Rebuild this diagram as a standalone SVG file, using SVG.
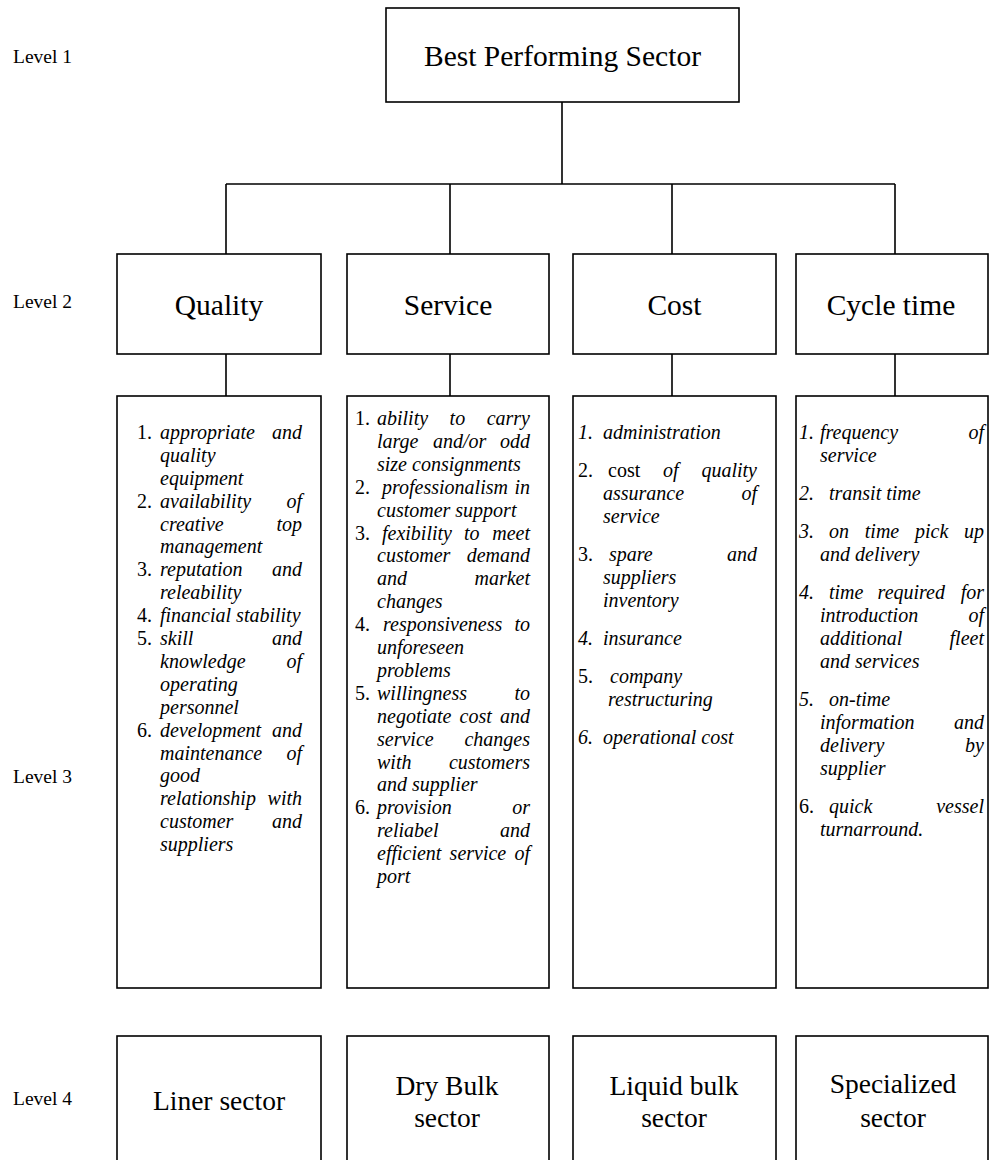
<svg xmlns="http://www.w3.org/2000/svg" width="989" height="1160" viewBox="0 0 989 1160">
  <style>
    text { font-family: "Liberation Serif", "Times New Roman", serif; fill: #000; }
    .box { fill: none; stroke: #000; stroke-width: 1.6; }
    .wire { fill: none; stroke: #000; stroke-width: 1.6; }
    .lvl { font-size: 19.5px; }
    .head { font-size: 29.5px; text-anchor: middle; }
    .sec { font-size: 27.5px; text-anchor: middle; }
    .it { font-size: 20px; font-style: italic; }
    .n { font-style: normal; }
    .e { text-anchor: end; }
  </style>
  <rect width="989" height="1160" fill="#fff"/>

  <!-- level captions -->
  <g id="levels">
    <text class="lvl" x="13" y="63">Level 1</text>
    <text class="lvl" x="13" y="308">Level 2</text>
    <text class="lvl" x="13" y="783">Level 3</text>
    <text class="lvl" x="13" y="1105">Level 4</text>
  </g>

  <!-- tree connectors -->
  <g id="connectors">
    <path class="wire" d="M562 102 V184 M226 184 H895 M226 184 V254 M450 184 V254 M672 184 V254 M895 184 V254"/>
    <path class="wire" d="M226 354 V396 M450 354 V396 M672 354 V396 M895 354 V396"/>
  </g>

  <!-- level 1 -->
  <g id="best-performing-sector">
    <rect class="box" x="386" y="8" width="353" height="94"/>
    <text class="head" x="562.5" y="66">Best Performing Sector</text>
  </g>

  <!-- level 2 -->
  <g id="quality">
    <rect class="box" x="117" y="254" width="204" height="100"/>
    <text class="head" x="219" y="315">Quality</text>
  </g>
  <g id="service">
    <rect class="box" x="347" y="254" width="202" height="100"/>
    <text class="head" x="448" y="315">Service</text>
  </g>
  <g id="cost">
    <rect class="box" x="573" y="254" width="203" height="100"/>
    <text class="head" x="674.5" y="315">Cost</text>
  </g>
  <g id="cycle-time">
    <rect class="box" x="796" y="254" width="192" height="100"/>
    <text class="head" x="891" y="315">Cycle time</text>
  </g>

  <!-- level 3: criteria lists -->
  <g id="quality-criteria">
    <rect class="box" x="117" y="396" width="204" height="592"/>
    <text class="it" y="439"><tspan class="n" x="137">1.</tspan><tspan x="160">appropriate</tspan><tspan class="e" x="302">and</tspan></text>
    <text class="it" x="160" y="462">quality</text>
    <text class="it" x="160" y="485">equipment</text>
    <text class="it" y="508"><tspan class="n" x="137">2.</tspan><tspan x="160">availability</tspan><tspan class="e" x="302">of</tspan></text>
    <text class="it" y="531"><tspan x="160">creative</tspan><tspan class="e" x="302">top</tspan></text>
    <text class="it" x="160" y="553">management</text>
    <text class="it" y="576"><tspan class="n" x="137">3.</tspan><tspan x="160">reputation</tspan><tspan class="e" x="302">and</tspan></text>
    <text class="it" x="160" y="599">releability</text>
    <text class="it" y="622"><tspan class="n" x="137">4.</tspan><tspan x="160">financial stability</tspan></text>
    <text class="it" y="645"><tspan class="n" x="137">5.</tspan><tspan x="160">skill</tspan><tspan class="e" x="302">and</tspan></text>
    <text class="it" y="668"><tspan x="160">knowledge</tspan><tspan class="e" x="302">of</tspan></text>
    <text class="it" x="160" y="691">operating</text>
    <text class="it" x="160" y="714">personnel</text>
    <text class="it" y="737"><tspan class="n" x="137">6.</tspan><tspan x="160">development</tspan><tspan class="e" x="302">and</tspan></text>
    <text class="it" y="760"><tspan x="160">maintenance</tspan><tspan class="e" x="302">of</tspan></text>
    <text class="it" x="160" y="782">good</text>
    <text class="it" y="805"><tspan x="160">relationship</tspan><tspan class="e" x="302">with</tspan></text>
    <text class="it" y="828"><tspan x="160">customer</tspan><tspan class="e" x="302">and</tspan></text>
    <text class="it" x="160" y="851">suppliers</text>
  </g>

  <g id="service-criteria">
    <rect class="box" x="347" y="396" width="202" height="592"/>
    <text class="it" y="425"><tspan class="n" x="355">1.</tspan><tspan x="377">ability</tspan><tspan x="449.6">to</tspan><tspan class="e" x="530">carry</tspan></text>
    <text class="it" y="448"><tspan x="377">large</tspan><tspan x="433">and/or</tspan><tspan class="e" x="530">odd</tspan></text>
    <text class="it" x="377" y="471">size consignments</text>
    <text class="it" y="494"><tspan class="n" x="355">2.</tspan><tspan x="382">professionalism</tspan><tspan class="e" x="530">in</tspan></text>
    <text class="it" x="377" y="517">customer support</text>
    <text class="it" y="540"><tspan class="n" x="355">3.</tspan><tspan x="382">fexibility</tspan><tspan x="464">to</tspan><tspan class="e" x="530">meet</tspan></text>
    <text class="it" y="562"><tspan x="377">customer</tspan><tspan class="e" x="530">demand</tspan></text>
    <text class="it" y="585"><tspan x="377">and</tspan><tspan class="e" x="530">market</tspan></text>
    <text class="it" x="377" y="608">changes</text>
    <text class="it" y="631"><tspan class="n" x="355">4.</tspan><tspan x="383">responsiveness</tspan><tspan class="e" x="530">to</tspan></text>
    <text class="it" x="377" y="654">unforeseen</text>
    <text class="it" x="377" y="677">problems</text>
    <text class="it" y="700"><tspan class="n" x="355">5.</tspan><tspan x="377">willingness</tspan><tspan class="e" x="530">to</tspan></text>
    <text class="it" y="723"><tspan x="377">negotiate</tspan><tspan x="459.6">cost</tspan><tspan class="e" x="530">and</tspan></text>
    <text class="it" y="746"><tspan x="377">service</tspan><tspan class="e" x="530">changes</tspan></text>
    <text class="it" y="769"><tspan x="377">with</tspan><tspan class="e" x="530">customers</tspan></text>
    <text class="it" x="377" y="791">and supplier</text>
    <text class="it" y="814"><tspan class="n" x="355">6.</tspan><tspan x="377">provision</tspan><tspan class="e" x="530">or</tspan></text>
    <text class="it" y="837"><tspan x="377">reliabel</tspan><tspan class="e" x="530">and</tspan></text>
    <text class="it" y="860"><tspan x="377">efficient</tspan><tspan x="449.6">service</tspan><tspan class="e" x="530">of</tspan></text>
    <text class="it" x="377" y="883">port</text>
  </g>

  <g id="cost-criteria">
    <rect class="box" x="573" y="396" width="203" height="592"/>
    <text class="it" y="439"><tspan x="578">1.</tspan><tspan x="603">administration</tspan></text>
    <text class="it" y="477"><tspan class="n" x="578">2.</tspan><tspan class="n" x="608">cost</tspan><tspan x="663">of</tspan><tspan class="e" x="757">quality</tspan></text>
    <text class="it" y="500"><tspan x="603">assurance</tspan><tspan class="e" x="757">of</tspan></text>
    <text class="it" x="603" y="523">service</text>
    <text class="it" y="561"><tspan class="n" x="578">3.</tspan><tspan x="609">spare</tspan><tspan class="e" x="757">and</tspan></text>
    <text class="it" x="603" y="584">suppliers</text>
    <text class="it" x="603" y="607">inventory</text>
    <text class="it" y="645"><tspan x="578">4.</tspan><tspan x="603">insurance</tspan></text>
    <text class="it" y="683"><tspan class="n" x="578">5.</tspan><tspan x="610">company</tspan></text>
    <text class="it" x="608" y="706">restructuring</text>
    <text class="it" y="744"><tspan x="578">6.</tspan><tspan x="603">operational cost</tspan></text>
  </g>

  <g id="cycle-time-criteria">
    <rect class="box" x="796" y="396" width="192" height="592"/>
    <text class="it" y="439"><tspan x="799">1.</tspan><tspan x="820">frequency</tspan><tspan class="e" x="984">of</tspan></text>
    <text class="it" x="820" y="462">service</text>
    <text class="it" y="500"><tspan x="799">2.</tspan><tspan x="829">transit time</tspan></text>
    <text class="it" y="538"><tspan x="799">3.</tspan><tspan x="829">on</tspan><tspan x="864.8">time</tspan><tspan x="915">pick</tspan><tspan class="e" x="984">up</tspan></text>
    <text class="it" x="820" y="561">and delivery</text>
    <text class="it" y="599"><tspan x="799">4.</tspan><tspan x="829">time</tspan><tspan x="877.6">required</tspan><tspan class="e" x="984">for</tspan></text>
    <text class="it" y="622"><tspan x="820">introduction</tspan><tspan class="e" x="984">of</tspan></text>
    <text class="it" y="645"><tspan x="820">additional</tspan><tspan class="e" x="984">fleet</tspan></text>
    <text class="it" x="820" y="668">and services</text>
    <text class="it" y="706"><tspan x="799">5.</tspan><tspan x="829">on-time</tspan></text>
    <text class="it" y="729"><tspan x="820">information</tspan><tspan class="e" x="984">and</tspan></text>
    <text class="it" y="752"><tspan x="820">delivery</tspan><tspan class="e" x="984">by</tspan></text>
    <text class="it" x="820" y="775">supplier</text>
    <text class="it" y="813"><tspan class="n" x="799">6.</tspan><tspan x="829">quick</tspan><tspan class="e" x="984">vessel</tspan></text>
    <text class="it" x="820" y="836">turnarround.</text>
  </g>

  <!-- level 4: sectors -->
  <g id="liner-sector">
    <rect class="box" x="117" y="1036" width="204" height="150"/>
    <text class="sec" x="219" y="1110">Liner sector</text>
  </g>
  <g id="dry-bulk-sector">
    <rect class="box" x="347" y="1036" width="202" height="150"/>
    <text class="sec" x="447" y="1095">Dry Bulk</text>
    <text class="sec" x="447" y="1127">sector</text>
  </g>
  <g id="liquid-bulk-sector">
    <rect class="box" x="573" y="1036" width="203" height="150"/>
    <text class="sec" x="674" y="1095">Liquid bulk</text>
    <text class="sec" x="674" y="1127">sector</text>
  </g>
  <g id="specialized-sector">
    <rect class="box" x="796" y="1036" width="192" height="150"/>
    <text class="sec" x="893" y="1093">Specialized</text>
    <text class="sec" x="893" y="1127">sector</text>
  </g>
</svg>
